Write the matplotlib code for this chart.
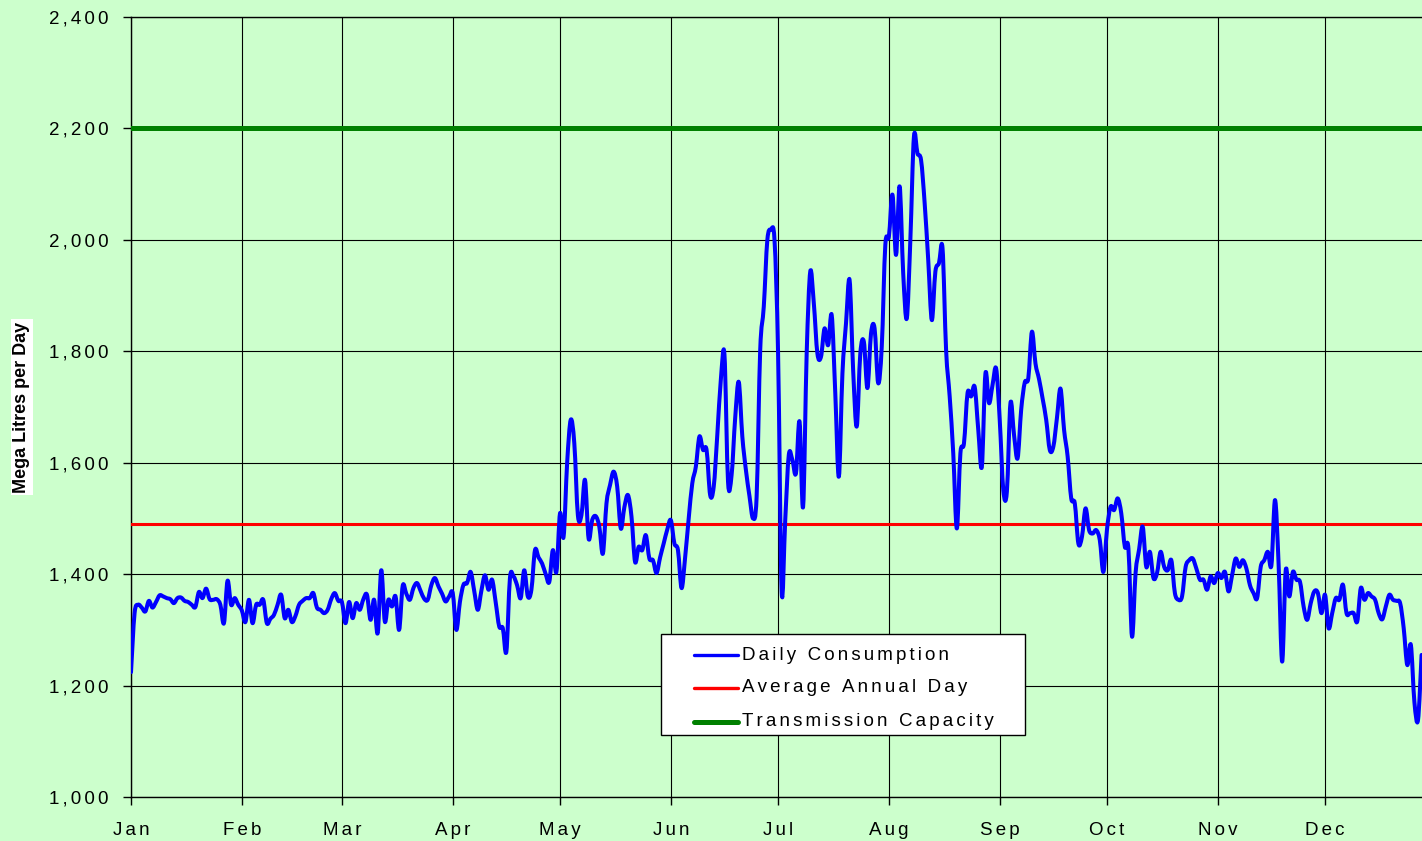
import numpy as np
import matplotlib
matplotlib.use("Agg")
import matplotlib.pyplot as plt
from matplotlib.lines import Line2D
from matplotlib.patches import Rectangle, PathPatch
from matplotlib.path import Path
from matplotlib.ticker import FuncFormatter

# ---------------- data (Mega Litres per Day, daily) ----------------
jan = [1224, 1330, 1345, 1340, 1333, 1352, 1340, 1350, 1362, 1360,
       1357, 1355, 1348, 1357, 1358, 1352, 1350, 1345, 1341, 1368,
       1357, 1374, 1355, 1354, 1355, 1345, 1312, 1388, 1345, 1357, 1345]
feb = [1335, 1314, 1354, 1312, 1345, 1345, 1354, 1312, 1320, 1327,
       1345, 1363, 1321, 1336, 1314, 1325, 1345, 1352, 1357, 1357,
       1366, 1340, 1336, 1330, 1336, 1355, 1366, 1352]
mar = [1350, 1312, 1350, 1321, 1348, 1336, 1355, 1363, 1318, 1354,
       1294, 1407, 1315, 1354, 1342, 1360, 1300, 1379, 1365, 1354,
       1375, 1384, 1370, 1356, 1354, 1380, 1393, 1378, 1365, 1351, 1360]
apr = [1366, 1300, 1350, 1381, 1384, 1404, 1370, 1336, 1370, 1398,
       1372, 1390, 1350, 1306, 1303, 1261, 1393, 1396, 1380, 1357,
       1407, 1360, 1372, 1443, 1430, 1419, 1400, 1386, 1443, 1404]
may = [1509, 1467, 1600, 1677, 1635, 1506, 1506, 1569, 1464, 1497,
       1504, 1485, 1437, 1527, 1560, 1584, 1557, 1482, 1520, 1542,
       1503, 1422, 1449, 1443, 1470, 1428, 1425, 1402, 1430, 1455, 1480]
jun = [1497, 1455, 1443, 1375, 1430, 1500, 1563, 1593, 1647, 1623,
       1623, 1542, 1557, 1650, 1750, 1794, 1566, 1578, 1680, 1745,
       1647, 1587, 1540, 1500, 1539, 1802, 1880, 2000, 2018, 2000]
jul = [1796, 1369, 1497, 1614, 1605, 1581, 1674, 1521, 1796, 1943,
       1886, 1796, 1790, 1841, 1811, 1865, 1725, 1575, 1760, 1850,
       1928, 1766, 1665, 1796, 1817, 1734, 1832, 1841, 1743, 1808, 1991]
aug = [2006, 2081, 1973, 2096, 1940, 1859, 2000, 2185, 2155, 2143,
       2066, 1964, 1856, 1943, 1958, 1985, 1802, 1719, 1617, 1482,
       1617, 1635, 1725, 1719, 1736, 1659, 1593, 1760, 1707, 1740, 1769]
sep = [1677, 1551, 1548, 1707, 1650, 1608, 1695, 1744, 1752, 1835,
       1778, 1750, 1715, 1677, 1623, 1629, 1680, 1733, 1659, 1611,
       1536, 1527, 1455, 1467, 1518, 1479, 1473, 1479, 1461, 1404]
oct_ = [1480, 1521, 1515, 1536, 1509, 1449, 1446, 1288, 1402, 1445,
        1485, 1413, 1440, 1393, 1402, 1440, 1413, 1407, 1425, 1366,
        1354, 1360, 1413, 1425, 1428, 1410, 1390, 1390, 1372, 1396, 1384]
nov = [1402, 1393, 1404, 1369, 1398, 1428, 1413, 1425, 1410, 1380,
       1366, 1357, 1413, 1425, 1440, 1416, 1533, 1419, 1243, 1407,
       1360, 1404, 1390, 1386, 1342, 1318, 1348, 1369, 1366, 1330]
dec = [1363, 1303, 1330, 1357, 1354, 1381, 1330, 1330, 1330, 1315,
       1375, 1354, 1366, 1360, 1354, 1330, 1319, 1342, 1363, 1354,
       1352, 1348, 1303, 1237, 1273, 1170, 1138, 1255]

average_annual_day = 1490
transmission_capacity = 2200

month_labels = ["Jan", "Feb", "Mar", "Apr", "May", "Jun",
                "Jul", "Aug", "Sep", "Oct", "Nov", "Dec"]
month_start_day = [0, 31, 59, 90, 120, 151, 181, 212, 243, 273, 304, 334]
y_ticks = [1000, 1200, 1400, 1600, 1800, 2000, 2200, 2400]
series_labels = ["Daily Consumption", "Average Annual Day", "Transmission Capacity"]
ylabel = "Mega Litres per Day"

daily = np.array(jan + feb + mar + apr + may + jun + jul + aug + sep + oct_ + nov + dec,
                 dtype=float)
days = np.arange(len(daily), dtype=float)

# ---------------- style ----------------
W, H = 1422, 841
BG = "#CCFFCC"
FONT = ["Liberation Sans", "DejaVu Sans"]
plt.rcParams["font.family"] = FONT
FS = 13.5
SP = "\u2006"


def spaced(s):
    return SP.join(list(s))


def px(x, y):
    return x / W, 1 - y / H


def smooth_path(x, y, t=1 / 6):
    """Bezier path through every data point (Excel-style smoothed line)."""
    verts = [(x[0], y[0])]
    codes = [Path.MOVETO]
    n = len(x)
    for i in range(n - 1):
        x0, y0 = (x[i - 1], y[i - 1]) if i > 0 else (x[i], y[i])
        x3, y3 = (x[i + 2], y[i + 2]) if i + 2 < n else (x[i + 1], y[i + 1])
        c1 = (x[i] + (x[i + 1] - x0) * t, y[i] + (y[i + 1] - y0) * t)
        c2 = (x[i + 1] - (x3 - x[i]) * t, y[i + 1] - (y3 - y[i]) * t)
        verts += [c1, c2, (x[i + 1], y[i + 1])]
        codes += [Path.CURVE4] * 3
    return Path(verts, codes)


fig = plt.figure(figsize=(W / 100, H / 100), dpi=100, facecolor=BG)
ax = fig.add_axes([131 / W, 1 - 797 / H, (W - 131) / W, (797 - 17) / H])
ax.set_facecolor(BG)

ax.add_patch(PathPatch(smooth_path(days, daily), facecolor="none", edgecolor="#0000FF",
                       lw=2.9, joinstyle="round", capstyle="round", zorder=4,
                       label=series_labels[0]))
ax.axhline(average_annual_day, color="#FF0000", lw=2.2, zorder=3)
ax.axhline(transmission_capacity, color="#008000", lw=3.6, zorder=3)

ax.set_xlim(0, (W - 131) / 3.575)
ax.set_ylim(1000, 2400)

ax.set_xticks(month_start_day)
ax.set_xticklabels([spaced(m) for m in month_labels])
ax.set_yticks(y_ticks)
ax.yaxis.set_major_formatter(FuncFormatter(lambda v, p: spaced(f"{int(v):,}")))
ax.tick_params(axis="both", direction="out", length=6, width=1, colors="black",
               labelsize=FS)
ax.tick_params(axis="x", pad=12)
ax.tick_params(axis="y", pad=10)

ax.grid(True, color="black", lw=0.8)
ax.set_axisbelow(True)
for side in ["left", "bottom", "top"]:
    ax.spines[side].set_color("black")
    ax.spines[side].set_linewidth(1.0)
ax.spines["right"].set_visible(False)

fig.text(*px(22, 407), ylabel, rotation=90, ha="center", va="center",
         fontsize=13, fontweight="bold", color="black",
         bbox=dict(facecolor="white", edgecolor="none", pad=2))

# ---------------- legend box ----------------
x0, y0 = px(661, 735)
x1, y1 = px(1025, 634)
fig.add_artist(Rectangle((x0, y0), x1 - x0, y1 - y0, transform=fig.transFigure,
                         facecolor="white", edgecolor="black", lw=1.0, zorder=10))
rows_y = [655, 688, 722]
colors = ["#0000FF", "#FF0000", "#008000"]
widths = [2.4, 2.4, 3.6]
for lab, yy, c, w in zip(series_labels, rows_y, colors, widths):
    xa, ya = px(694, yy)
    xb, _ = px(738, yy)
    fig.add_artist(Line2D([xa, xb], [ya, ya], transform=fig.transFigure,
                          color=c, lw=w, solid_capstyle="round", zorder=11))
    fig.text(*px(742, yy), spaced(lab), ha="left", va="center", fontsize=FS,
             color="black", zorder=12)

fig.savefig("out.png", dpi=100, facecolor=BG)
